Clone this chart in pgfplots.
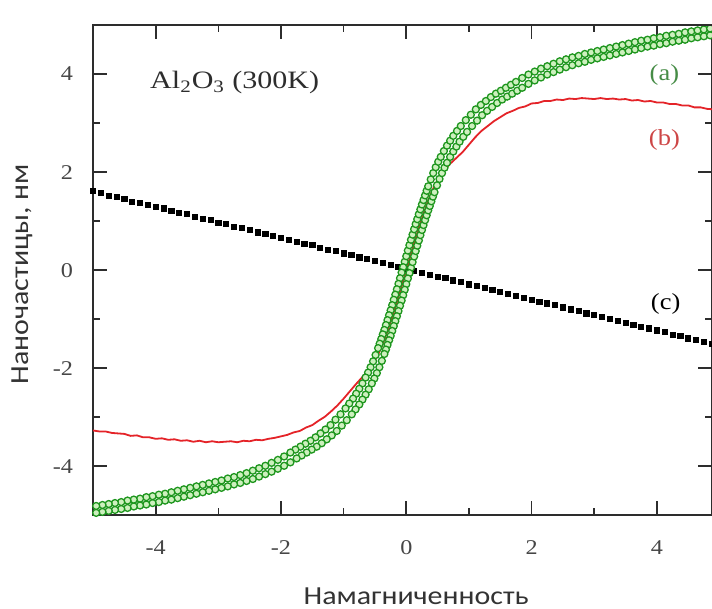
\documentclass[border=0pt]{standalone}
\usepackage{fontspec}
\setmainfont{Liberation Serif}
\newfontfamily\tickfont{Liberation Serif}[FakeStretch=1.15]
\newfontfamily\titlefont{Liberation Serif}[FakeStretch=1.2]
\newfontfamily\labelfont{Carlito}[FakeStretch=1.15]
\usepackage{pgfplots}
\usepackage{pgfplotstable}
\pgfplotsset{compat=1.18}

\definecolor{axisgray}{RGB}{45,45,45}
\definecolor{tickgray}{RGB}{70,70,70}
\definecolor{gr}{RGB}{30,150,30}
\definecolor{grfill}{RGB}{205,240,190}
\definecolor{rd}{RGB}{228,35,40}
\definecolor{lbla}{RGB}{70,140,70}
\definecolor{lblb}{RGB}{205,70,70}

% half of the loop (x >= 0), the other half is point-symmetric
\pgfplotstableread{
x y
0 0
0.025 0.11
0.05 0.225
0.075 0.34
0.1 0.45
0.125 0.56
0.15 0.665
0.175 0.775
0.2 0.88
0.225 0.98
0.25 1.08
0.275 1.18
0.3 1.28
0.325 1.37
0.35 1.465
0.375 1.56
0.4 1.65
0.44 1.79
0.48 1.92
0.52 2.04
0.56 2.15
0.60 2.25
0.65 2.37
0.70 2.48
0.75 2.58
0.80 2.68
0.86 2.78
0.92 2.88
1.0 3.0
1.08 3.11
1.16 3.22
1.24 3.31
1.32 3.39
1.40 3.47
1.48 3.54
1.56 3.60
1.64 3.66
1.72 3.72
1.80 3.78
1.90 3.86
2.0 3.93
2.1 3.99
2.2 4.05
2.3 4.10
2.4 4.15
2.5 4.20
2.6 4.24
2.7 4.28
2.8 4.31
2.9 4.35
3.0 4.38
3.1 4.41
3.2 4.44
3.3 4.47
3.4 4.50
3.5 4.53
3.6 4.56
3.7 4.59
3.8 4.62
3.9 4.64
4.0 4.67
4.1 4.69
4.2 4.72
4.3 4.74
4.4 4.76
4.5 4.79
4.6 4.81
4.7 4.83
4.8 4.85
4.9 4.87
5.0 4.89
}\halfloop

\begin{document}
\begin{tikzpicture}
\begin{axis}[
    name=ax,
    scale only axis,
    width=309.3pt, height=245pt,
    xmin=-5, xmax=4.88, ymin=-5, ymax=5,
    xtick={-4,-2,0,2,4}, ytick={-4,-2,0,2,4},
    minor xtick={-3,-1,1,3}, minor ytick={-3,-1,1,3},
    tick align=inside,
    major tick length=7pt, minor tick length=3.5pt,
    axis line style={axisgray, line width=0.9pt},
    tick style={axisgray, line width=0.8pt},
    /pgf/number format/assume math mode=true,
    ticklabel style={font=\tickfont\fontsize{10.5}{12}\selectfont, text=tickgray},
    xticklabel style={yshift=-9pt},
    yticklabel style={xshift=-6.5pt},
    xlabel={Намагниченность},
    ylabel={Наночастицы, нм},
    label style={font=\labelfont\fontsize{13}{15}\selectfont, text=black!80},
    xlabel style={at={(axis description cs:0.522,0)}, anchor=center, yshift=-40.5pt},
    ylabel style={at={(axis description cs:0,0.492)}, anchor=center, yshift=35.5pt},
]
% (c) linear response
\addplot[only marks, mark=square*, mark size=1.3pt, black] coordinates {
(-5.000,1.61)(-4.875,1.57)(-4.750,1.52)(-4.625,1.49)(-4.500,1.45)(-4.375,1.40)
(-4.250,1.37)(-4.125,1.33)(-4.000,1.29)(-3.875,1.26)(-3.750,1.21)(-3.625,1.17)
(-3.500,1.14)(-3.375,1.09)(-3.250,1.05)(-3.125,1.02)(-3.000,0.97)(-2.875,0.94)
(-2.750,0.89)(-2.625,0.86)(-2.500,0.82)(-2.375,0.77)(-2.250,0.74)(-2.125,0.70)
(-2.000,0.66)(-1.875,0.62)(-1.750,0.58)(-1.625,0.54)(-1.500,0.51)(-1.375,0.46)
(-1.250,0.42)(-1.125,0.39)(-1.000,0.34)(-0.875,0.31)(-0.750,0.26)(-0.625,0.23)
(-0.500,0.19)(-0.375,0.14)(-0.250,0.11)(-0.125,0.07)(0.000,0.03)(0.125,-0.01)
(0.250,-0.05)(0.375,-0.09)(0.500,-0.13)(0.625,-0.16)(0.750,-0.21)(0.875,-0.24)
(1.000,-0.29)(1.125,-0.32)(1.250,-0.37)(1.375,-0.40)(1.500,-0.45)(1.625,-0.48)
(1.750,-0.52)(1.875,-0.57)(2.000,-0.60)(2.125,-0.64)(2.250,-0.68)(2.375,-0.71)
(2.500,-0.76)(2.625,-0.80)(2.750,-0.83)(2.875,-0.88)(3.000,-0.91)(3.125,-0.96)
(3.250,-0.99)(3.375,-1.04)(3.500,-1.07)(3.625,-1.11)(3.750,-1.16)(3.875,-1.19)
(4.000,-1.23)(4.125,-1.26)(4.250,-1.32)(4.375,-1.34)(4.500,-1.39)(4.625,-1.42)
(4.750,-1.47)(4.875,-1.51)
};
% (b)
\addplot[rd, line width=0.9pt] coordinates {
(-5.0,-3.27)(-4.9,-3.29)(-4.8,-3.29)(-4.7,-3.32)(-4.6,-3.33)(-4.5,-3.34)
(-4.4,-3.38)(-4.3,-3.37)(-4.2,-3.41)(-4.1,-3.41)(-4.0,-3.44)(-3.9,-3.43)
(-3.8,-3.46)(-3.7,-3.45)(-3.6,-3.48)(-3.5,-3.47)(-3.4,-3.50)(-3.3,-3.48)
(-3.2,-3.51)(-3.1,-3.49)(-3.0,-3.51)(-2.9,-3.50)(-2.8,-3.49)(-2.7,-3.51)
(-2.6,-3.48)(-2.5,-3.49)(-2.4,-3.46)(-2.3,-3.47)(-2.2,-3.44)(-2.1,-3.42)
(-2.0,-3.39)(-1.9,-3.36)(-1.8,-3.31)(-1.7,-3.28)(-1.6,-3.21)(-1.5,-3.16)
(-1.4,-3.07)(-1.3,-2.99)(-1.2,-2.88)(-1.1,-2.76)(-1.0,-2.62)(-0.9,-2.47)
(-0.8,-2.32)(-0.7,-2.18)(-0.6,-2.03)(-0.5,-1.84)(-0.45,-1.72)
(-0.4,-1.58)(-0.35,-1.42)(-0.3,-1.24)(-0.25,-1.05)(-0.2,-0.86)(-0.15,-0.65)
(-0.1,-0.44)(-0.05,-0.22)(0,0)(0.05,0.22)(0.1,0.44)(0.15,0.65)(0.2,0.86)
(0.25,1.05)(0.3,1.24)(0.35,1.42)(0.4,1.58)(0.45,1.72)(0.5,1.84)
(0.6,2.03)(0.7,2.17)(0.8,2.29)(0.9,2.41)(1.0,2.56)(1.1,2.71)(1.2,2.84)
(1.3,2.94)(1.4,3.04)(1.5,3.12)(1.6,3.20)(1.7,3.25)(1.8,3.31)(1.9,3.34)
(2.0,3.40)(2.1,3.41)(2.2,3.45)(2.3,3.45)(2.4,3.48)(2.5,3.47)(2.6,3.50)
(2.7,3.49)(2.8,3.51)(2.9,3.50)(3.0,3.49)(3.1,3.51)(3.2,3.49)(3.3,3.50)
(3.4,3.48)(3.5,3.49)(3.6,3.46)(3.7,3.47)(3.8,3.44)(3.9,3.45)(4.0,3.42)
(4.1,3.42)(4.2,3.39)(4.3,3.39)(4.4,3.36)(4.5,3.36)(4.6,3.32)(4.7,3.32)
(4.8,3.29)(4.9,3.28)
};
% (a) hysteresis loop: lower (ascending) and upper (descending) branch
\addplot[only marks, mark=*, mark size=1.75pt, mark options={draw=gr, fill=grfill, line width=0.65pt}]
  table[x expr=\thisrow{x}+0.05, y expr=\thisrow{y}-0.06] {\halfloop};
\addplot[only marks, mark=*, mark size=1.75pt, mark options={draw=gr, fill=grfill, line width=0.65pt}]
  table[x expr=0.05-\thisrow{x}, y expr=-\thisrow{y}-0.06] {\halfloop};
\addplot[only marks, mark=*, mark size=1.75pt, mark options={draw=gr, fill=grfill, line width=0.65pt}]
  table[x expr=\thisrow{x}-0.05, y expr=\thisrow{y}+0.06] {\halfloop};
\addplot[only marks, mark=*, mark size=1.75pt, mark options={draw=gr, fill=grfill, line width=0.65pt}]
  table[x expr=-0.05-\thisrow{x}, y expr=0.06-\thisrow{y}] {\halfloop};
\node[anchor=west, font=\titlefont\fontsize{12.5}{14}\selectfont, text=axisgray]
  at (axis cs:-4.2,3.82) {Al\textsubscript{2}O\textsubscript{3} (300K)};
\node[font=\tickfont\fontsize{11.5}{13}\selectfont, text=lbla] at (axis cs:4.12,3.98) {(a)};
\node[font=\tickfont\fontsize{11.5}{13}\selectfont, text=lblb] at (axis cs:4.12,2.66) {(b)};
\node[font=\tickfont\fontsize{11.5}{13}\selectfont, text=black] at (axis cs:4.14,-0.68) {(c)};
\end{axis}
\draw[axisgray, line width=1pt] (ax.north west) -- (ax.north east);
\pgfresetboundingbox
\path[use as bounding box] ([xshift=-46.5pt,yshift=-46.5pt]ax.south west) rectangle ([yshift=12.5pt]ax.north east);
\end{tikzpicture}
\end{document}
